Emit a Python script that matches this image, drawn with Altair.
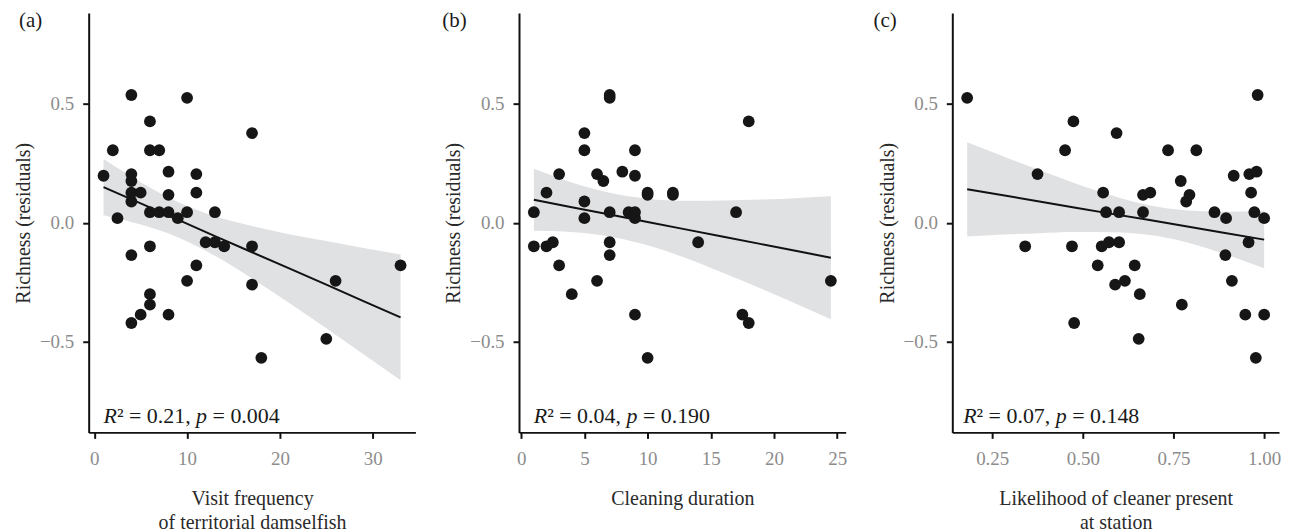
import pandas as pd
import altair as alt

# ---------------- data ----------------
# (a) visit frequency of territorial damselfish
x_a = [1, 2, 2.5, 4, 4, 4, 4, 5, 4, 6, 6, 7, 6, 7, 8, 10, 8, 8, 9, 10, 11, 11, 13, 17,
       6, 12, 13, 14, 17, 4, 11, 10, 17, 6, 6, 5, 8, 4, 25, 18, 26, 33]
y_a = [0.197, 0.304, 0.019, 0.536, 0.204, 0.175, 0.126, 0.126, 0.089, 0.425, 0.304, 0.304,
       0.044, 0.044, 0.044, 0.044, 0.214, 0.117, 0.019, 0.524, 0.204, 0.126, 0.044, 0.376,
       -0.099, -0.082, -0.082, -0.099, -0.099, -0.136, -0.179, -0.244, -0.26, -0.30, -0.344,
       -0.386, -0.386, -0.421, -0.4875, -0.567, -0.244, -0.179]

# (b) cleaning duration
x_b = [1, 2, 3, 5, 5, 5, 5, 6, 6.5, 7, 7, 7, 8, 8.5, 9, 9, 9, 9, 10, 10, 12, 12, 17, 18,
       14, 7, 1, 2, 2.5, 7, 3, 6, 4, 9, 10, 17.5, 18, 24.5]
y_b = [0.044, 0.126, 0.204, 0.376, 0.304, 0.089, 0.019, 0.204, 0.175, 0.536, 0.524, 0.044,
       0.214, 0.044, 0.044, 0.304, 0.197, 0.019, 0.126, 0.117, 0.126, 0.117, 0.044, 0.425,
       -0.082, -0.082, -0.099, -0.099, -0.082, -0.136, -0.179, -0.244, -0.30, -0.386, -0.567,
       -0.386, -0.421, -0.244]

# (c) likelihood of cleaner present at station
x_c = [0.181, 0.474, 0.451, 0.375, 0.593, 0.556, 0.564, 0.600, 0.666, 0.686, 0.666, 0.735,
       0.813, 0.770, 0.794, 0.785, 0.863, 0.895, 0.916, 0.959, 0.979, 0.964, 0.982, 0.973,
       1.000, 0.957, 0.341, 0.470, 0.552, 0.572, 0.600, 0.893, 0.541, 0.643, 0.589, 0.616,
       0.911, 0.657, 0.773, 0.476, 0.654, 0.948, 1.000, 0.977]
y_c = [0.524, 0.425, 0.304, 0.204, 0.376, 0.126, 0.044, 0.044, 0.117, 0.126, 0.044, 0.304,
       0.304, 0.175, 0.117, 0.089, 0.044, 0.019, 0.197, 0.204, 0.214, 0.126, 0.536, 0.044,
       0.019, -0.082, -0.099, -0.099, -0.099, -0.082, -0.082, -0.136, -0.179, -0.179, -0.26,
       -0.244, -0.244, -0.30, -0.344, -0.421, -0.4875, -0.386, -0.386, -0.567]

# fitted line and 95% band at a few x positions
sx_a = [1, 5, 9, 13, 17, 21, 25, 29, 33]
fit_a = [0.149, 0.081, 0.013, -0.056, -0.124, -0.192, -0.260, -0.329, -0.397]
hi_a = [0.267, 0.170, 0.087, 0.027, -0.014, -0.048, -0.077, -0.106, -0.133]
lo_a = [0.031, -0.008, -0.061, -0.139, -0.234, -0.337, -0.443, -0.552, -0.661]

sx_b = [1, 4, 7, 10, 13, 16, 19, 22, 24.5]
fit_b = [0.096, 0.065, 0.034, 0.003, -0.028, -0.059, -0.090, -0.121, -0.147]
hi_b = [0.226, 0.169, 0.126, 0.101, 0.092, 0.093, 0.097, 0.104, 0.111]
lo_b = [-0.034, -0.039, -0.058, -0.095, -0.148, -0.211, -0.277, -0.346, -0.405]

sx_c = [0.181, 0.28, 0.38, 0.48, 0.58, 0.68, 0.78, 0.88, 1.0]
fit_c = [0.140, 0.115, 0.089, 0.063, 0.037, 0.012, -0.014, -0.040, -0.071]
hi_c = [0.338, 0.279, 0.221, 0.165, 0.114, 0.074, 0.052, 0.046, 0.049]
lo_c = [-0.058, -0.050, -0.044, -0.039, -0.040, -0.051, -0.080, -0.126, -0.191]

letters = ["(a)", "(b)", "(c)"]
x_titles = [["Visit frequency", "of territorial damselfish"],
            ["Cleaning duration"],
            ["Likelihood of cleaner present", "at station"]]
x_domains = [[-0.6, 34.6], [-0.175, 25.675], [0.14, 1.041]]
x_ticks = [[0, 10, 20, 30], [0, 5, 10, 15, 20, 25], [0.25, 0.5, 0.75, 1.0]]
x_formats = ["d", "d", ".2f"]
y_ticks = [-0.5, 0.0, 0.5]
y_domain = [-0.88, 0.88]
r2_vals = ["0.21", "0.04", "0.07"]
p_vals = ["0.004", "0.190", "0.148"]
ann_x = [1, 1, 0.17]
ann_y = -0.84
letter_dx = [-70, -77, -79]

FONT = "Liberation Serif"
W, H = 328, 421


def panel(i, x, y, sx, fit, lo, hi):
    pts = pd.DataFrame({"x": x, "y": y})
    sm = pd.DataFrame({"x": sx, "fit": fit, "lo": lo, "hi": hi})
    xs = alt.Scale(domain=x_domains[i], nice=False, zero=False)
    ys = alt.Scale(domain=y_domain, nice=False, zero=False)
    xax = alt.Axis(title=x_titles[i], values=x_ticks[i], format=x_formats[i])
    yax = alt.Axis(title="Richness (residuals)", values=y_ticks, format=".1f")

    band = alt.Chart(sm).mark_area(color="#e0e1e3", interpolate="monotone").encode(
        x=alt.X("x:Q", scale=xs, axis=xax),
        y=alt.Y("lo:Q", scale=ys, axis=yax),
        y2="hi:Q",
    )
    line = alt.Chart(sm).mark_line(color="#111111", strokeWidth=2).encode(
        x="x:Q", y="fit:Q"
    )
    dots = alt.Chart(pts).mark_circle(size=140, color="#161616", opacity=1).encode(
        x="x:Q", y="y:Q"
    )

    fs = 22
    ann = pd.DataFrame({
        "x": [ann_x[i]] * 4,
        "y": [ann_y] * 4,
        "t": ["R", "\u00b2 = " + r2_vals[i] + ",", "p", "= " + p_vals[i]],
    })
    segs = []
    offsets = [0, 611, 4225, 4975]
    styles = ["italic", "normal", "italic", "normal"]
    for k in range(4):
        segs.append(
            alt.Chart(ann.iloc[[k]]).mark_text(
                font=FONT, fontSize=fs, fontStyle=styles[k], align="left",
                baseline="alphabetic", color="#1a1a1a", dx=offsets[k] * fs / 1000.0,
            ).encode(x="x:Q", y="y:Q", text="t:N")
        )

    lab = alt.Chart(pd.DataFrame({"t": [letters[i]]})).mark_text(
        font=FONT, fontSize=21, align="left", baseline="middle", color="#1a1a1a"
    ).encode(x=alt.value(letter_dx[i]), y=alt.value(8), text="t:N")

    return alt.layer(band, line, dots, *segs, lab).properties(width=W, height=H)


chart = alt.hconcat(
    panel(0, x_a, y_a, sx_a, fit_a, lo_a, hi_a),
    panel(1, x_b, y_b, sx_b, fit_b, lo_b, hi_b),
    panel(2, x_c, y_c, sx_c, fit_c, lo_c, hi_c),
    spacing=27,
).properties(
    padding={"left": 5, "top": 1, "right": 5, "bottom": 5}
).configure_view(stroke=None).configure_axis(
    grid=False,
    domainColor="#111111",
    domainWidth=2,
    tickColor="#111111",
    tickWidth=2,
    tickSize=6,
    labelFont=FONT,
    labelFontSize=19,
    labelColor="#8c8c8c",
    labelPadding=9,
    titleFont=FONT,
    titleFontSize=20,
    titleFontWeight="normal",
    titleColor="#2a2a2a",
    titlePadding=6,
    titleLineHeight=25,
).configure_axisX(labelPadding=11, titlePadding=20)

chart.save("out.html", embed_options={"renderer": "svg", "actions": False})
